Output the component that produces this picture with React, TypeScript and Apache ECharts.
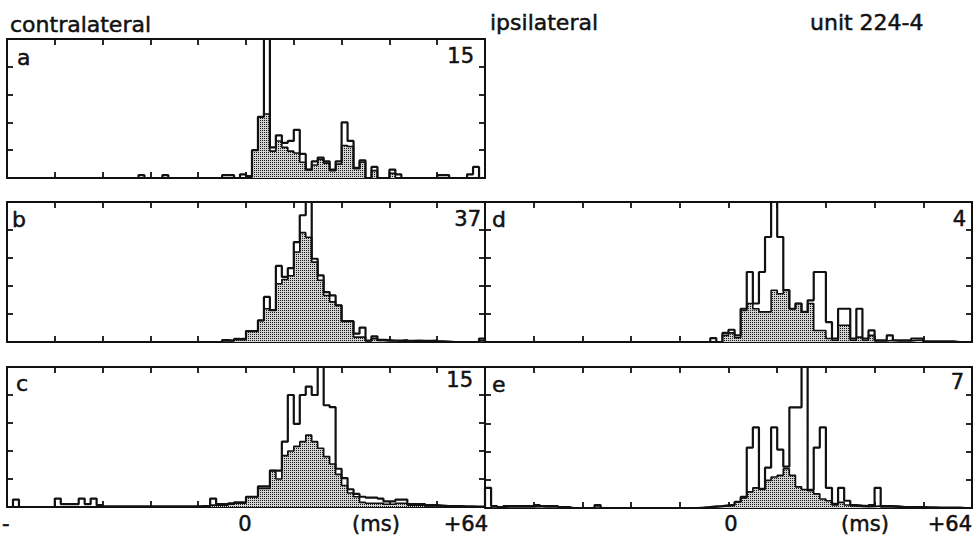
import React, { useEffect, useRef } from "react";
import * as echarts from "echarts";

// 80 bins of 1.6 ms from -64 ms to +64 ms
const BIN_MS = 1.6;
const X_MIN = -64;
const X_MAX = 64;
const binStarts = Array.from({ length: 80 }, (_, i) => X_MIN + i * BIN_MS);

// full-scale values (top of each panel)
const fullScale = { a: 15, b: 37, c: 15, d: 4, e: 7 };

// panel a (contralateral)
const aOutline = [
  0, 0, 0, 0, 0, 0, 0, 0, 0, 0,
  0, 0, 0, 0, 0, 0, 0, 0, 0, 0,
  0, 0, 0.3, 0, 0, 0, 0.3, 0, 0, 0,
  0, 0, 0, 0, 0, 0, 0.3, 0.3, 0, 0.4,
  0.2, 3.0, 6.6, 20, 3.3, 4.6, 3.8, 4.0, 5.2, 2.6,
  0.9, 1.8, 2.2, 1.8, 0.9, 1.8, 6.0, 4.0, 1.1, 1.9,
  0, 1.2, 0, 0, 0.9, 0.4, 0, 0, 0, 0,
  0, 0, 0.3, 0.3, 0, 0, 0, 0.4, 1.2, 0,
];
const aShaded = [
  0, 0, 0, 0, 0, 0, 0, 0, 0, 0,
  0, 0, 0, 0, 0, 0, 0, 0, 0, 0,
  0, 0, 0, 0, 0, 0, 0, 0, 0, 0,
  0, 0, 0, 0, 0, 0, 0, 0, 0, 0,
  0, 3.0, 6.6, 6.9, 2.9, 4.0, 3.3, 2.9, 2.7, 1.7,
  0.9, 1.4, 2.0, 1.6, 0.8, 1.5, 3.5, 3.4, 1.0, 1.7,
  0, 0.8, 0, 0, 0.5, 0, 0, 0, 0, 0,
  0, 0, 0, 0, 0, 0, 0, 0, 0, 0,
];

// panel b (contralateral)
const bOutline = [
  0, 0, 0, 0, 0, 0, 0, 0, 0, 0,
  0, 0, 0, 0, 0, 0, 0, 0, 0, 0,
  0, 0, 0, 0, 0, 0, 0, 0, 0, 0,
  0, 0, 0, 0, 0, 0, 0.5, 0.4, 0.8, 0.9,
  2.9, 2.9, 5.7, 11.9, 8.4, 20.1, 17.2, 19.5, 26.4, 33.5,
  45, 22, 17.6, 13.2, 12.3, 9.7, 5.5, 5.5, 2.2, 3.8,
  0.4, 1.5, 0.6, 0.5, 0.4, 0.4, 0.5, 0.3, 0.4, 0.3,
  0.3, 0.4, 0.2, 0.1, 0, 0, 0, 0, 0, 0.9,
];
const bShaded = [
  0, 0, 0, 0, 0, 0, 0, 0, 0, 0,
  0, 0, 0, 0, 0, 0, 0, 0, 0, 0,
  0, 0, 0, 0, 0, 0, 0, 0, 0, 0,
  0, 0, 0, 0, 0, 0, 0.3, 0.3, 0.6, 0.6,
  2.9, 2.9, 5.7, 8.8, 8.4, 15.4, 16.5, 17.5, 23.8, 28.9,
  27.7, 21.1, 16.3, 12.3, 10.6, 9.7, 5.5, 5.5, 1.3, 1.3,
  0.3, 0.9, 0.4, 0.3, 0.3, 0.2, 0.3, 0.2, 0.2, 0.2,
  0.1, 0.2, 0.1, 0, 0, 0, 0, 0, 0, 0.3,
];

// panel c (contralateral)
const cOutline = [
  0, 0.8, 0, 0, 0, 0, 0, 0, 0.9, 0.3,
  0.3, 0.3, 0.9, 0.3, 0.9, 0.2, 0.08, 0.08, 0.08, 0.08,
  0.08, 0.08, 0.08, 0.08, 0.08, 0.08, 0.08, 0.08, 0.08, 0.08,
  0.08, 0.08, 0.1, 0.1, 0.9, 0.3, 0.3, 0.4, 0.5, 0.5,
  1.1, 1.1, 2.2, 2.2, 3.9, 3.9, 7.0, 12.0, 8.9, 12.0,
  12.9, 12.0, 17, 10.9, 10.7, 4.1, 3.1, 1.9, 1.4, 1.1,
  1.0, 1.0, 0.9, 0.6, 0.6, 0.8, 0.8, 0.3, 0.3, 0.3,
  0.2, 0.2, 0.15, 0.1, 0.1, 0.1, 0.08, 0.08, 0.05, 0.05,
];
const cShaded = [
  0, 0, 0, 0, 0, 0, 0, 0, 0, 0,
  0, 0, 0, 0, 0, 0, 0, 0, 0, 0,
  0, 0, 0, 0, 0, 0, 0, 0, 0, 0,
  0, 0, 0.05, 0.05, 0.2, 0.2, 0.2, 0.3, 0.4, 0.4,
  1.1, 1.1, 2.0, 2.0, 3.9, 3.0, 5.5, 6.0, 6.5, 7.0,
  7.7, 7.0, 6.3, 5.4, 4.6, 3.5, 2.3, 1.5, 1.1, 0.5,
  0.4, 0.4, 0.4, 0.3, 0.3, 0.4, 0.4, 0.2, 0.2, 0.2,
  0.1, 0.1, 0.1, 0.05, 0.05, 0.05, 0, 0, 0, 0,
];

// panel d (ipsilateral)
const dOutline = [
  0, 0, 0, 0, 0, 0, 0, 0, 0, 0,
  0, 0, 0, 0, 0, 0, 0, 0, 0, 0,
  0, 0, 0, 0, 0, 0, 0, 0, 0, 0,
  0, 0, 0, 0, 0, 0, 0, 0.11, 0, 0.26,
  0.35, 0.19, 0.95, 2.0, 1.1, 2.0, 3.0, 5.5, 3.0, 1.48,
  0.95, 1.1, 0.86, 1.19, 2.0, 2.0, 0.57, 0.1, 0.95, 0.95,
  0.1, 0.95, 0.1, 0.33, 0.05, 0.05, 0.19, 0.05, 0.05, 0.05,
  0.1, 0.1, 0.02, 0.02, 0.02, 0.02, 0.02, 0, 0, 0,
];
const dShaded = [
  0, 0, 0, 0, 0, 0, 0, 0, 0, 0,
  0, 0, 0, 0, 0, 0, 0, 0, 0, 0,
  0, 0, 0, 0, 0, 0, 0, 0, 0, 0,
  0, 0, 0, 0, 0, 0, 0, 0, 0, 0.19,
  0.26, 0.12, 0.9, 1.1, 0.95, 0.86, 0.86, 1.48, 1.38, 1.48,
  0.95, 1.1, 0.86, 1.1, 0.33, 0.33, 0.1, 0.05, 0.48, 0.48,
  0.05, 0.14, 0.05, 0.19, 0.03, 0.03, 0.05, 0.03, 0.03, 0.03,
  0.05, 0.05, 0, 0, 0, 0, 0, 0, 0, 0,
];

// panel e (ipsilateral)
const eOutline = [
  1.0, 0.1, 0.05, 0.1, 0.1, 0.1, 0.1, 0.1, 0.15, 0.1,
  0.1, 0.1, 0.05, 0.05, 0, 0, 0, 0, 0.15, 0,
  0, 0, 0, 0, 0, 0, 0, 0, 0, 0,
  0, 0, 0, 0, 0, 0.02, 0.05, 0.08, 0.1, 0.13,
  0.16, 0.3, 0.55, 3.0, 4.0, 0.95, 2.0, 4.0, 2.9, 2.05,
  5.0, 5.0, 9, 0.9, 3.0, 4.0, 1.0, 0.2, 1.0, 0.36,
  0.15, 0.12, 0.1, 0.15, 1.0, 0.1, 0.1, 0.08, 0.05, 0.05,
  0.05, 0.05, 0.03, 0.03, 0.02, 0.02, 0.02, 0.02, 0, 0,
];
const eShaded = [
  0, 0.05, 0.03, 0.05, 0.05, 0.05, 0.05, 0.05, 0.08, 0.05,
  0.05, 0.05, 0.03, 0.03, 0, 0, 0, 0, 0.05, 0,
  0, 0, 0, 0, 0, 0, 0, 0, 0, 0,
  0, 0, 0, 0, 0, 0.02, 0.03, 0.05, 0.08, 0.1,
  0.13, 0.3, 0.5, 0.8, 1.0, 0.93, 1.37, 1.54, 1.62, 1.95,
  1.62, 1.05, 0.92, 0.86, 0.7, 0.45, 0.36, 0.15, 0.28, 0.15,
  0.1, 0.08, 0.06, 0.08, 0.1, 0.05, 0.05, 0.04, 0.03, 0.03,
  0.03, 0.02, 0.02, 0, 0, 0, 0, 0, 0, 0,
];

const panelLetters = ["a", "b", "c", "d", "e"];
const panelScaleLabels = ["15", "37", "15", "4", "7"];
const headerTitles = ["contralateral", "ipsilateral", "unit 224-4"];
const axisLabelsBottom = ["0", "(ms)", "+64"];

const FONT = "DejaVu Sans";

function stepData(vals: number[]) {
  const pts: number[][] = [[X_MIN, 0]];
  vals.forEach((v, i) => pts.push([binStarts[i], v]));
  pts.push([X_MAX, vals[vals.length - 1]]);
  pts.push([X_MAX, 0]);
  return pts;
}

function makePattern() {
  const c = document.createElement("canvas");
  c.width = 2;
  c.height = 2;
  const ctx = c.getContext("2d")!;
  ctx.fillStyle = "#d2d2d2";
  ctx.fillRect(0, 0, 2, 2);
  ctx.fillStyle = "#1a1a1a";
  ctx.fillRect(0, 0, 1, 1);
  return c;
}

export default function App() {
  const ref = useRef<HTMLDivElement>(null);
  useEffect(() => {
    if (!ref.current) return;
    const chart = echarts.init(ref.current, undefined, { renderer: "svg" });

    const grids = [
      { left: 7, top: 39, width: 478, height: 139 },
      { left: 7, top: 202, width: 478, height: 140 },
      { left: 7, top: 367, width: 478, height: 140 },
      { left: 485, top: 202, width: 487, height: 140 },
      { left: 485, top: 367, width: 487, height: 141 },
    ];
    const scales = [fullScale.a, fullScale.b, fullScale.c, fullScale.d, fullScale.e];
    const outlines = [aOutline, bOutline, cOutline, dOutline, eOutline];
    const shadeds = [aShaded, bShaded, cShaded, dShaded, eShaded];

    const axisLine = { show: true, onZero: false, lineStyle: { color: "#111", width: 2 } };
    const axisTick = { show: true, inside: true, length: 6, lineStyle: { color: "#111", width: 1.8 } };

    const xAxis: any[] = [];
    const yAxis: any[] = [];
    const series: any[] = [];
    const pattern = makePattern();

    grids.forEach((g, gi) => {
      ["bottom", "top"].forEach((pos) => {
        xAxis.push({
          type: "value",
          gridIndex: gi,
          position: pos,
          min: X_MIN,
          max: X_MAX,
          interval: 12.8,
          axisLine,
          axisTick,
          axisLabel: { show: false },
          splitLine: { show: false },
        });
      });
      ["left", "right"].forEach((pos) => {
        yAxis.push({
          type: "value",
          gridIndex: gi,
          position: pos,
          min: 0,
          max: scales[gi],
          interval: scales[gi] / 5,
          axisLine,
          axisTick,
          axisLabel: { show: false },
          splitLine: { show: false },
        });
      });
      series.push({
        type: "line",
        xAxisIndex: gi * 2,
        yAxisIndex: gi * 2,
        step: "end",
        symbol: "none",
        clip: true,
        data: stepData(shadeds[gi]),
        lineStyle: { color: "#111", width: 1.6 },
        areaStyle: { color: { image: pattern, repeat: "repeat" }, opacity: 1 },
        z: 2,
      });
      series.push({
        type: "line",
        xAxisIndex: gi * 2,
        yAxisIndex: gi * 2,
        step: "end",
        symbol: "none",
        clip: true,
        data: stepData(outlines[gi]),
        lineStyle: { color: "#111", width: 2.2 },
        z: 3,
      });
    });

    const txt = (text: string, x: number, y: number, align: string, size: number) => ({
      type: "text",
      x,
      y,
      style: {
        text,
        fill: "#111",
        stroke: "#111",
        lineWidth: 0.5,
        font: `${size}px "${FONT}"`,
        textAlign: align,
        textVerticalAlign: "middle",
      },
      z: 10,
    });

    const letterPos = [
      [17, 57],
      [12, 219],
      [16, 383],
      [492, 219],
      [492, 384],
    ];
    const scalePos = [
      [474, 56],
      [481, 219],
      [473, 380],
      [966, 219],
      [964, 382],
    ];

    const graphic: any[] = [
      txt(headerTitles[0], 10, 24, "left", 22),
      txt(headerTitles[1], 490, 22, "left", 22),
      txt(headerTitles[2], 810, 22, "left", 22),
    ];
    panelLetters.forEach((l, i) => {
      graphic.push(txt(l, letterPos[i][0], letterPos[i][1], "left", 22));
      graphic.push(txt(panelScaleLabels[i], scalePos[i][0], scalePos[i][1], "right", 21));
    });
    // bottom axis labels for both columns
    const by = 524;
    graphic.push(txt(axisLabelsBottom[0], 245, by, "center", 21));
    graphic.push(txt(axisLabelsBottom[1], 376, by, "center", 21));
    graphic.push(txt(axisLabelsBottom[2], 488, by, "right", 21));
    graphic.push(txt(axisLabelsBottom[0], 731, by, "center", 21));
    graphic.push(txt(axisLabelsBottom[1], 865, by, "center", 21));
    graphic.push(txt(axisLabelsBottom[2], 972, by, "right", 21));
    graphic.push(txt("-", 2, by, "left", 21));

    chart.setOption({
      animation: false,
      backgroundColor: "#ffffff",
      grid: grids.map((g) => ({ ...g, containLabel: false })),
      xAxis,
      yAxis,
      series,
      graphic,
    });
    return () => chart.dispose();
  }, []);
  return (
    <div
      ref={ref}
      style={{ position: "fixed", left: 0, top: 0, width: 978, height: 537, background: "#fff" }}
    />
  );
}
